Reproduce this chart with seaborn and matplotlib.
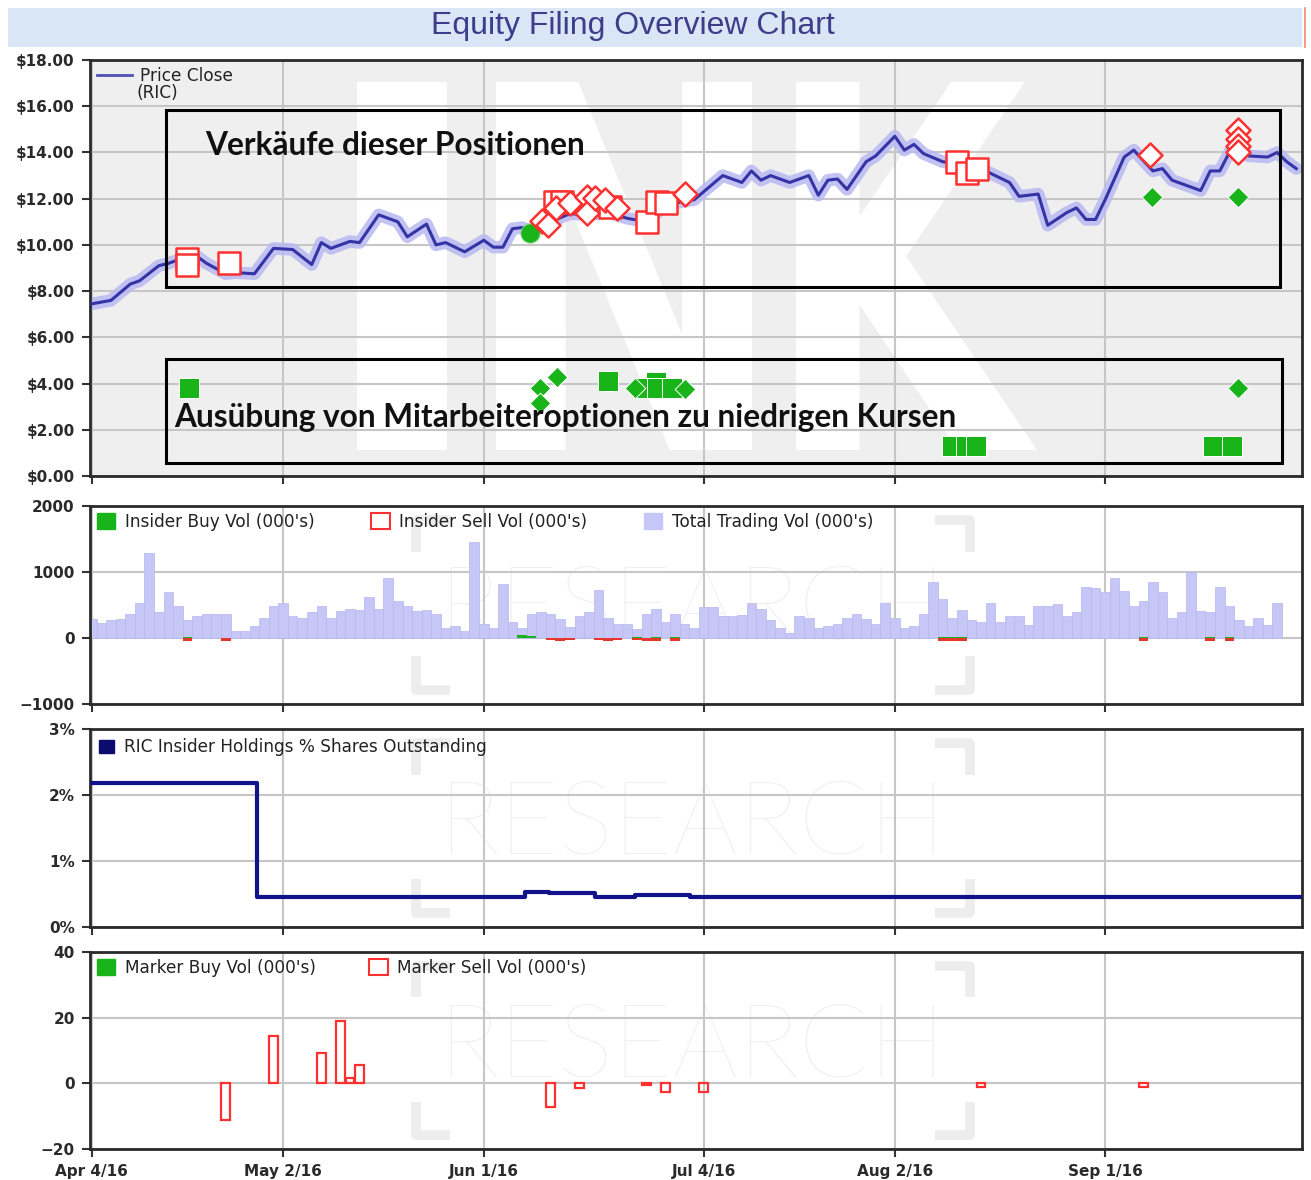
import numpy as np
import pandas as pd
import matplotlib
matplotlib.use('Agg')
import matplotlib.pyplot as plt
import seaborn as sns
from matplotlib.patches import Rectangle, Patch, PathPatch
from matplotlib.lines import Line2D
from matplotlib.textpath import TextPath
from matplotlib.font_manager import FontProperties
from matplotlib.transforms import Affine2D

# ------------------------------------------------------------------ data
holidays = ['2016-05-30', '2016-07-04', '2016-09-05']
trading_days = pd.bdate_range('2016-04-04', '2016-09-30').difference(pd.to_datetime(holidays))

tick_dates = ['2016-04-04', '2016-05-02', '2016-06-01', '2016-07-04', '2016-08-02', '2016-09-01']
tick_labels = ['Apr 4/16', 'May 2/16', 'Jun 1/16', 'Jul 4/16', 'Aug 2/16', 'Sep 1/16']

# price close (trading-day number, $)
price_day = [0, 2, 4, 5, 7, 8, 10, 11, 12, 14, 15, 17, 19, 21, 23, 24, 25, 27, 28, 30,
             32, 33, 35, 36, 37, 39, 41, 42, 43, 44, 45, 46, 48, 50, 52, 54, 56, 58, 60, 62,
             63, 66, 68, 69, 70, 71, 73, 75, 76, 77, 78, 79, 81, 82, 84, 85, 86, 87, 89, 91,
             93, 95, 96, 97, 99, 100, 102, 103, 104, 105, 106, 108, 109, 111, 112, 113, 116, 117, 118, 119,
             120, 121, 123, 124, 125, 126]
price_close = [7.45, 7.6, 8.3, 8.45, 9.1, 9.2, 9.5, 9.5, 9.2, 8.75, 8.8, 8.75, 9.85, 9.8, 9.15, 10.1, 9.85, 10.15, 10.1, 11.3,
               11.0, 10.35, 10.9, 10.0, 10.1, 9.7, 10.2, 9.9, 9.9, 10.7, 10.75, 10.6, 11.0, 11.35, 11.3, 11.4, 11.15, 11.0, 11.7, 11.9,
               11.95, 13.0, 12.7, 13.2, 12.8, 13.0, 12.7, 13.0, 12.15, 12.8, 12.85, 12.4, 13.6, 13.85, 14.7, 14.1, 14.35, 13.95, 13.6, 13.5,
               13.3, 12.9, 12.7, 12.1, 12.2, 10.85, 11.4, 11.6, 11.1, 11.1, 11.95, 13.8, 14.1, 13.2, 13.3, 12.8, 12.35, 13.2, 13.2, 14.0,
               14.3, 13.85, 13.8, 14.0, 13.6, 13.3]

# insider sell markers on the price panel
sell_sq_day = [10, 10, 14.3, 48.4, 49.2, 53.1, 54.2, 58.1, 59.1, 60.1, 90.5, 91.5, 92.6]
sell_sq_price = [9.4, 9.15, 9.2, 11.86, 11.86, 11.75, 11.65, 11.0, 11.86, 11.8, 13.6, 13.1, 13.3]
sell_dia_day = [47.1, 47.7, 48.6, 50.0, 51.8, 51.8, 52.6, 53.7, 54.9, 62.0, 110.7, 119.9, 119.9, 119.9, 119.9]
sell_dia_price = [11.05, 10.85, 11.6, 11.8, 12.07, 11.38, 12.05, 11.95, 11.6, 12.2, 13.9, 14.97, 14.6, 14.3, 14.0]

# insider buy markers on the price panel
buy_sq_day = [10.2, 54.0, 59.0, 57.8, 59.1, 60.7, 90.0, 91.4, 92.5, 117.3, 119.3]
buy_sq_price = [3.8, 4.1, 4.05, 3.8, 3.8, 3.8, 1.3, 1.3, 1.3, 1.3, 1.3]
buy_dia_day = [46.9, 46.9, 48.7, 56.8, 62.0, 110.9, 119.9, 119.9]
buy_dia_price = [3.8, 3.15, 4.3, 3.8, 3.75, 12.07, 12.07, 3.8]
buy_dot_day = [45.8]
buy_dot_price = [10.5]

price_ticks = [0, 2, 4, 6, 8, 10, 12, 14, 16, 18]
price_tick_labels = ['$0.00', '$2.00', '$4.00', '$6.00', '$8.00', '$10.00', '$12.00', '$14.00', '$16.00', '$18.00']

# total trading volume (000's), trading days 0..124
vol_total = [282, 230, 267, 282, 370, 523, 1293, 400, 693, 487, 267, 333, 360, 360, 360, 103, 103, 180, 308, 487,
             523, 333, 308, 400, 487, 308, 410, 436, 420, 626, 436, 913, 564, 487, 410, 420, 370, 154, 180, 103,
             1462, 205, 144, 820, 246, 154, 360, 400, 360, 282, 164, 333, 400, 728, 308, 205, 205, 140, 370, 436,
             246, 370, 205, 144, 472, 472, 333, 333, 349, 523, 436, 267, 154, 77, 333, 308, 144, 180, 205, 297,
             370, 282, 205, 523, 308, 154, 180, 360, 846, 590, 297, 420, 267, 246, 523, 246, 333, 333, 195, 487,
             487, 513, 333, 400, 770, 760, 693, 913, 718, 487, 554, 846, 693, 308, 400, 1000, 410, 400, 780, 487,
             267, 180, 308, 195, 523]
insider_buy_day = [10, 45, 46, 57, 59, 61, 89, 90, 91, 110, 117, 119]
insider_buy_vol = [20, 40, 25, 15, 15, 15, 20, 20, 20, 15, 15, 15]
insider_sell_day = [10, 14, 48, 49, 50, 53, 54, 55, 57, 58, 59, 61, 89, 90, 91, 110, 117, 119]
insider_sell_vol = [-45, -50, -25, -45, -25, -25, -45, -25, -25, -45, -45, -45, -50, -50, -50, -45, -45, -45]
vol_ticks = [-1000, 0, 1000, 2000]

# insider holdings % of shares outstanding (step series)
hold_day = [0, 17.3, 45.3, 47.8, 52.6, 56.8, 62.6, 126.6]
hold_pct = [2.18, 0.46, 0.535, 0.51, 0.46, 0.49, 0.46, 0.46]
hold_ticks = [0, 1, 2, 3]
hold_tick_labels = ['0%', '1%', '2%', '3%']

# marker sell volume (000's)
mkt_sell_day = [14, 19, 24, 26, 27, 28, 48, 51, 58, 60, 64, 93, 110]
mkt_sell_vol = [-11.3, 14.3, 9.2, 18.9, 1.5, 5.5, -7.3, -1.5, -0.5, -2.5, -2.5, -1.0, -1.0]
mkt_ticks = [-20, 0, 20, 40]

# ------------------------------------------------------------------ style
RED = '#ff3030'
GREEN = '#19b419'
LAV = '#c7c7f7'
LINE = '#3434a6'
NAVY = '#12128a'
GRID = '#c6c6c6'
DARK = '#2a2a2a'
LEG_FS = 12.2

plt.rcParams['font.family'] = ['DejaVu Sans']

W, H = 1311, 1180
fig = plt.figure(figsize=(W / 100, H / 100), dpi=100)
fig.patch.set_facecolor('white')


def ax_rect(x0, y0, x1, y1):
    return [x0 / W, 1 - y1 / H, (x1 - x0) / W, (y1 - y0) / H]


ax1 = fig.add_axes(ax_rect(90, 60, 1302, 476))
ax2 = fig.add_axes(ax_rect(90, 506, 1302, 704))
ax3 = fig.add_axes(ax_rect(90, 729, 1302, 927))
ax4 = fig.add_axes(ax_rect(90, 952, 1302, 1149))
axes = [ax1, ax2, ax3, ax4]

# title band
fig.patches.append(Rectangle((8 / W, 1 - 47 / H), (1302 - 8) / W, 39 / H, transform=fig.transFigure,
                             facecolor='#d9e6f5', edgecolor='none'))
fig.add_artist(Line2D([1305 / W, 1305 / W], [1 - 47 / H, 1 - 8 / H], color='#f08a6a', lw=1.2))
fig.text(633 / W, 1 - 26 / H, 'Equity Filing Overview Chart', ha='center', va='center',
         fontsize=23, color='#3d3d8c', family='Liberation Sans')

tick_pos = [int(trading_days.searchsorted(pd.Timestamp(d))) for d in tick_dates]

# ------------------------------------------------------------------ panel 1
ax1.set_facecolor('#efefef')
wm_font = FontProperties(family='DejaVu Sans', weight='bold')
for letter, (px0, px1) in zip('INK', [(357, 447), (496, 752), (796, 1037)]):
    tp = TextPath((0, 0), letter, size=100, prop=wm_font)
    ext = tp.get_extents()
    x0f, x1f = (px0 - 90) / 1212, (px1 - 90) / 1212
    y0f, y1f = (476 - 450) / 416, (476 - 82) / 416
    tr = (Affine2D().translate(-ext.x0, -ext.y0)
          .scale((x1f - x0f) / ext.width, (y1f - y0f) / ext.height)
          .translate(x0f, y0f) + ax1.transAxes)
    ax1.add_patch(PathPatch(tp, transform=tr, facecolor='white', edgecolor='none', zorder=0.2))

sns.lineplot(x=price_day, y=price_close, color='#b8b8f2', lw=9, alpha=0.85, ax=ax1,
             errorbar=None, zorder=2, solid_capstyle='round')
sns.lineplot(x=price_day, y=price_close, color=LINE, lw=2.2, ax=ax1, errorbar=None, zorder=3)

sns.scatterplot(x=buy_sq_day, y=buy_sq_price, marker='s', s=190, color=GREEN, edgecolor='white',
                linewidth=0.7, ax=ax1, zorder=4)
sns.scatterplot(x=buy_dia_day, y=buy_dia_price, marker='D', s=110, color=GREEN, edgecolor='white',
                linewidth=0.7, ax=ax1, zorder=4)
sns.scatterplot(x=buy_dot_day, y=buy_dot_price, marker='o', s=190, color=GREEN, edgecolor='#7fd67f',
                linewidth=0.7, ax=ax1, zorder=4)
sns.scatterplot(x=sell_sq_day, y=sell_sq_price, marker='s', s=260, color='white', edgecolor=RED,
                linewidth=1.8, ax=ax1, zorder=5)
sns.scatterplot(x=sell_dia_day, y=sell_dia_price, marker='D', s=150, color='white', edgecolor=RED,
                linewidth=1.8, ax=ax1, zorder=5)

ax1.add_patch(Rectangle((0.0627, 0.454), 0.919, 0.426, transform=ax1.transAxes, fill=False,
                        edgecolor='black', lw=2.2, zorder=6))
ax1.add_patch(Rectangle((0.0627, 0.031), 0.921, 0.250, transform=ax1.transAxes, fill=False,
                        edgecolor='black', lw=2.2, zorder=6))
ax1.text(0.0949, 0.795, 'Verkäufe dieser Positionen', transform=ax1.transAxes, fontsize=22.8,
         fontweight='bold', family='Lato', va='center', ha='left', color='#111111', zorder=7)
ax1.text(0.0693, 0.141, 'Ausübung von Mitarbeiteroptionen zu niedrigen Kursen', transform=ax1.transAxes,
         fontsize=22.8, fontweight='bold', family='Lato', va='center', ha='left', color='#111111', zorder=7)

ax1.set_ylim(0, 18)
ax1.set_yticks(price_ticks)
ax1.set_yticklabels([t.replace('$', r'\$') for t in price_tick_labels])
ax1.legend(handles=[Line2D([], [], color='#5050b4', lw=2)], labels=['Price Close'],
           loc='upper left', frameon=False, fontsize=LEG_FS, handlelength=2.1, handletextpad=0.45,
           borderpad=0.2, borderaxespad=0.2, labelcolor='#222222')
ax1.text((137 - 90) / 1212, (476 - 93) / 416, '(RIC)', transform=ax1.transAxes, ha='left', va='center',
         fontsize=LEG_FS, color='#222222')


# ------------------------------------------------------------------ watermark for lower panels
def research_mark(ax, yc):
    ax.text(0.497, yc, 'RESEARCH', transform=ax.transAxes, ha='center', va='center',
            fontsize=74, family='Lato', fontweight='light', color='#efefef', zorder=0.1)
    kw = dict(transform=ax.transAxes, color='#ededed', lw=7, zorder=0.1, solid_capstyle='butt')
    ax.plot([0.297, 0.269, 0.269], [0.93, 0.93, 0.77], **kw)
    ax.plot([0.269, 0.269, 0.297], [0.24, 0.07, 0.07], **kw)
    ax.plot([0.697, 0.726, 0.726], [0.93, 0.93, 0.77], **kw)
    ax.plot([0.726, 0.726, 0.697], [0.24, 0.07, 0.07], **kw)


leg_kw = dict(loc='upper left', frameon=False, fontsize=LEG_FS, handlelength=1.1, handleheight=1.1,
              handletextpad=0.55, borderpad=0.2, borderaxespad=0.2, labelcolor='#222222')

# ------------------------------------------------------------------ panel 2
research_mark(ax2, 0.47)
sns.barplot(x=list(range(len(vol_total))), y=vol_total, native_scale=True, orient='x', color=LAV,
            saturation=1, width=1.0, errorbar=None, edgecolor='#b6b6ee', linewidth=0.5, ax=ax2, zorder=2)
sns.barplot(x=insider_sell_day, y=insider_sell_vol, native_scale=True, orient='x', color='#e8362c',
            saturation=1, width=1.0, errorbar=None, linewidth=0, ax=ax2, zorder=3)
sns.barplot(x=insider_buy_day, y=insider_buy_vol, native_scale=True, orient='x', color=GREEN,
            saturation=1, width=1.0, errorbar=None, linewidth=0, ax=ax2, zorder=3)
ax2.set_ylim(-1000, 2000)
ax2.set_yticks(vol_ticks)
ax2.legend(handles=[Patch(facecolor=GREEN, edgecolor=GREEN),
                    Patch(facecolor='white', edgecolor=RED, lw=1.5),
                    Patch(facecolor=LAV, edgecolor=LAV)],
           labels=["Insider Buy Vol (000's)", "Insider Sell Vol (000's)", "Total Trading Vol (000's)"],
           ncol=3, columnspacing=3.35, **leg_kw)

# ------------------------------------------------------------------ panel 3
research_mark(ax3, 0.51)
sns.lineplot(x=hold_day, y=hold_pct, drawstyle='steps-post', color=NAVY, lw=3, ax=ax3,
             errorbar=None, zorder=3)
ax3.set_ylim(0, 3)
ax3.set_yticks(hold_ticks)
ax3.set_yticklabels(hold_tick_labels)
ax3.legend(handles=[Patch(facecolor='#0c0c70', edgecolor='#0c0c70')],
           labels=['RIC Insider Holdings % Shares Outstanding'], loc='upper left', frameon=False,
           fontsize=LEG_FS, handlelength=0.85, handleheight=0.85, handletextpad=0.6, borderpad=0.3,
           borderaxespad=0.25, labelcolor='#222222')

# ------------------------------------------------------------------ panel 4
research_mark(ax4, 0.51)
sns.barplot(x=mkt_sell_day, y=mkt_sell_vol, native_scale=True, orient='x', color=RED, fill=False,
            saturation=1, width=0.9, errorbar=None, linewidth=1.6, ax=ax4, zorder=3)
ax4.set_ylim(-20, 40)
ax4.set_yticks(mkt_ticks)
ax4.legend(handles=[Patch(facecolor=GREEN, edgecolor=GREEN),
                    Patch(facecolor='white', edgecolor=RED, lw=1.5)],
           labels=["Marker Buy Vol (000's)", "Marker Sell Vol (000's)"],
           ncol=2, columnspacing=3.15, **leg_kw)

# ------------------------------------------------------------------ common axis styling
for ax in axes:
    if ax is not ax1:
        ax.set_facecolor('white')
    ax.set_xlim(-0.2, 126.6)
    ax.set_xticks(tick_pos)
    ax.set_xlabel('')
    ax.set_ylabel('')
    ax.grid(True, color=GRID, lw=1.5)
    ax.set_axisbelow(True)
    for sp in ax.spines.values():
        sp.set_color(DARK)
        sp.set_linewidth(2)
    ax.tick_params(axis='both', direction='out', length=6, width=1.5, color='#333333', pad=5,
                   labelsize=11, labelcolor=DARK)
    for lbl in ax.get_yticklabels():
        lbl.set_fontweight('bold')
    if ax is ax4:
        ax.set_xticklabels(tick_labels, fontweight='bold')
    else:
        ax.set_xticklabels([])

fig.savefig('out.png', dpi=100)
